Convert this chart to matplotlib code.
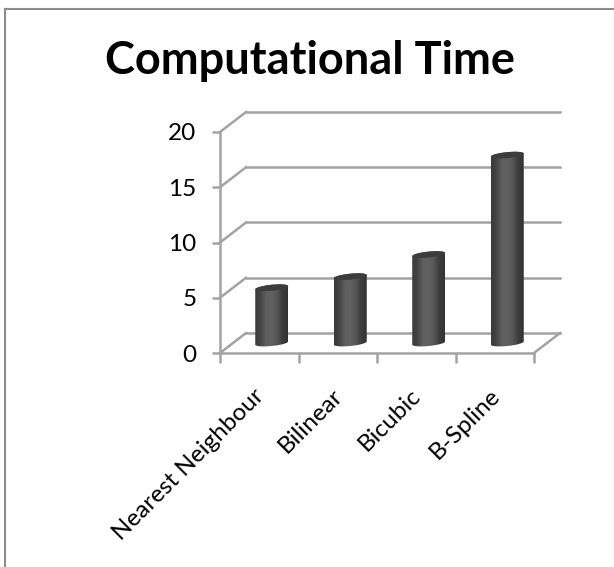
import numpy as np
import matplotlib
matplotlib.use("Agg")
import matplotlib.pyplot as plt
from matplotlib.patches import Polygon
from matplotlib.lines import Line2D
from matplotlib.colors import LinearSegmentedColormap
from matplotlib.transforms import ScaledTranslation

title = "Computational Time"
categories = ["Nearest Neighbour", "Bilinear", "Bicubic", "B-Spline"]
values = [5, 6, 8, 17]
y_ticks = [0, 5, 10, 15, 20]

W, H = 614, 567
fig = plt.figure(figsize=(W / 100, H / 100), dpi=100, facecolor="white")

# chart frame, running off the right and bottom of the picture
for xs, ys in (([5, 5], [9, 567]), ([5, 614], [9, 9])):
    fig.add_artist(Line2D([x / W for x in xs], [1 - y / H for y in ys],
                          color="#8c8c8c", lw=1.5))

FONT = "Lato"
fig.text(310 / W, 1 - 61 / H, title, ha="center", va="center",
         fontsize=32.5, fontweight="bold", family=FONT, color="black")

# axes = front plane of the 3-D box
L, R, T, B = 220, 534, 132, 353
ax = fig.add_axes([L / W, 1 - B / H, (R - L) / W, (B - T) / H])
ax.set_xlim(0, len(categories))
ax.set_ylim(0, 20)
ax.patch.set_visible(False)

GRID = "#a3a3a3"
LW = 1.8
for s in ("top", "right"):
    ax.spines[s].set_visible(False)
for s in ("left", "bottom"):
    ax.spines[s].set_color(GRID)
    ax.spines[s].set_linewidth(LW)

dx = 26 * len(categories) / (R - L)   # depth offset in data units
dy = 20 * 20 / (B - T)

# depth lines and back-wall gridlines
for v in y_ticks:
    ax.plot([0, dx], [v, v + dy], color=GRID, lw=LW, clip_on=False, zorder=1)
    ax.plot([dx, len(categories) + dx], [v + dy, v + dy], color=GRID, lw=LW,
            clip_on=False, zorder=1)
ax.plot([len(categories), len(categories) + dx], [0, dy], color=GRID, lw=LW,
        clip_on=False, zorder=1)

ax.set_yticks(y_ticks)
ax.set_xticks(range(len(categories) + 1))
ax.set_xticklabels([])
ax.set_xticks(np.arange(len(categories)) + 0.5, minor=True)
ax.set_xticklabels(categories, minor=True, rotation=45, ha="right",
                   rotation_mode="anchor", fontsize=17.5, family=FONT, color="black")
ax.tick_params(axis="x", which="major", length=7, width=LW, color=GRID)
ax.tick_params(axis="x", which="minor", length=0, pad=23)
ax.tick_params(axis="y", length=6, width=LW, color=GRID, pad=11)
for lab in ax.get_yticklabels():
    lab.set_fontsize(17.5)
    lab.set_family(FONT)
shift = ScaledTranslation(-6 / 100, 0, fig.dpi_scale_trans)
for lab in ax.get_xticklabels(minor=True):
    lab.set_transform(lab.get_transform() + shift)

# cylinders
cmap = LinearSegmentedColormap.from_list(
    "cyl", ["#3a3a3a", "#454545", "#5f5f5f", "#626262", "#565656", "#3c3c3c", "#333333"])
grad = np.linspace(0, 1, 128).reshape(1, -1)
rx = 16.5 * len(categories) / (R - L)
ry = 3.0 * 20 / (B - T)
tilt = 1.6 * 20 / (B - T)
t = np.linspace(0, 2 * np.pi, 73)
for i, v in enumerate(values):
    cx = i + 0.5 + (dx - 1 * len(categories) / (R - L)) / 2
    base = dy / 2
    ex = cx + rx * np.cos(t)
    ey = ry * np.sin(t) + tilt * np.cos(t)
    lower = ey[(t >= np.pi) & (t <= 2 * np.pi)]
    lx = ex[(t >= np.pi) & (t <= 2 * np.pi)]
    upper_x = ex[t <= np.pi]
    upper_y = ey[t <= np.pi]
    body = np.vstack([np.column_stack([lx, lower + base]),
                      np.column_stack([upper_x, upper_y + base + v])])
    poly = Polygon(body, closed=True, transform=ax.transData, fc="none", ec="none")
    ax.add_patch(poly)
    poly.set_clip_on(False)
    im = ax.imshow(grad, cmap=cmap, vmin=0, vmax=1, aspect="auto", zorder=3,
                   extent=[cx - rx, cx + rx, base - ry - tilt, base + v + ry + tilt])
    im.set_clip_path(poly)
    ax.fill(ex, ey + base + v, color="#3d3d3d", zorder=4, clip_on=False, lw=0)
ax.set_xlim(0, len(categories))
ax.set_ylim(0, 20)

fig.savefig("out.png", dpi=100, facecolor="white")
